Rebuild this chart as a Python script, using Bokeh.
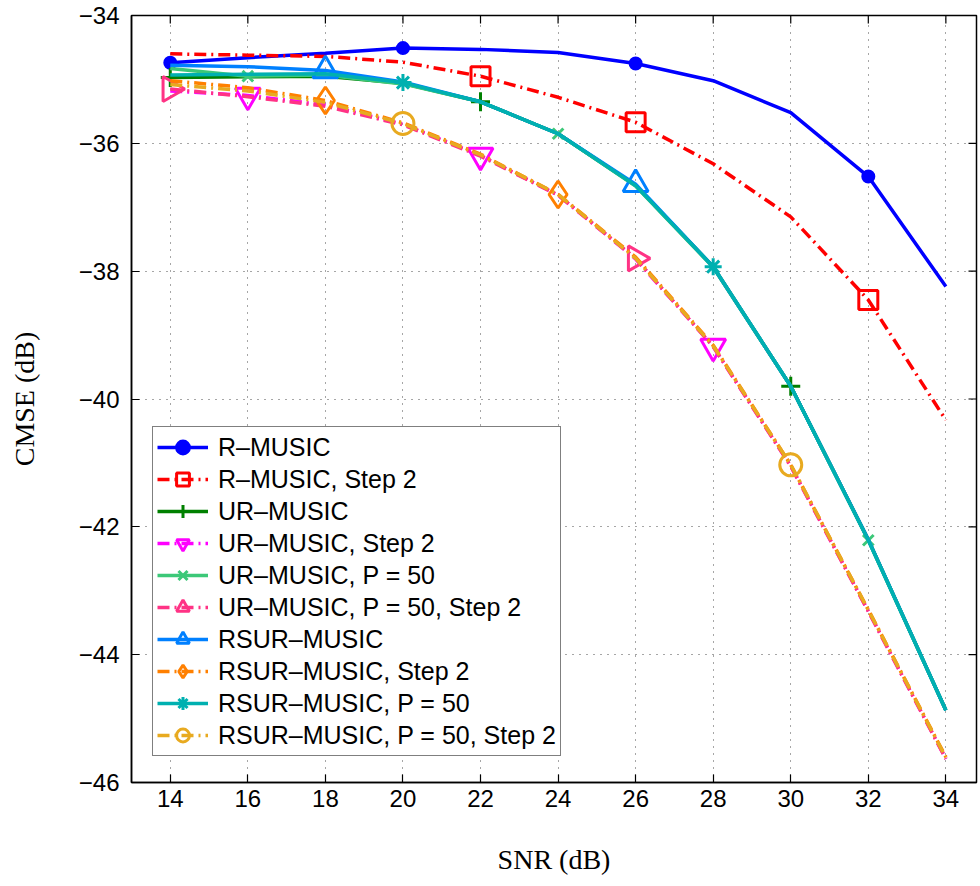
import math
from bokeh.plotting import figure
from bokeh.models import (Range1d, FixedTicker, Legend, LegendItem, ColumnDataSource)
from bokeh.embed import file_html
from bokeh.resources import INLINE

snr = [14, 16, 18, 20, 22, 24, 26, 28, 30, 32, 34]

r_music = [-34.74, -34.66, -34.59, -34.51, -34.53, -34.58, -34.75, -35.02, -35.52, -36.52, -38.24]
r_music_s2 = [-34.60, -34.62, -34.64, -34.73, -34.95, -35.28, -35.67, -36.32, -37.15, -38.45, -40.33]
ur_music = [-34.97, -34.96, -34.95, -35.06, -35.35, -35.85, -36.66, -37.93, -39.80, -42.20, -44.87]
ur_music_s2 = [-35.18, -35.25, -35.40, -35.70, -36.19, -36.81, -37.81, -39.18, -41.05, -43.32, -45.63]
ur_music_p50 = [-34.83, -34.95, -34.93, -35.07, -35.35, -35.85, -36.67, -37.94, -39.80, -42.21, -44.87]
ur_music_p50_s2 = [-35.15, -35.27, -35.42, -35.71, -36.20, -36.81, -37.80, -39.18, -41.05, -43.32, -45.63]
rsur_music = [-34.78, -34.80, -34.86, -35.04, -35.35, -35.85, -36.64, -37.93, -39.80, -42.20, -44.87]
rsur_music_s2 = [-35.02, -35.13, -35.33, -35.68, -36.17, -36.80, -37.78, -39.16, -41.03, -43.30, -45.60]
rsur_music_p50 = [-34.93, -34.92, -34.91, -35.05, -35.35, -35.85, -36.66, -37.93, -39.80, -42.21, -44.87]
rsur_music_p50_s2 = [-35.08, -35.18, -35.36, -35.69, -36.18, -36.80, -37.80, -39.17, -41.03, -43.30, -45.61]

labels = ["R\u2013MUSIC", "R\u2013MUSIC, Step 2", "UR\u2013MUSIC", "UR\u2013MUSIC, Step 2",
          "UR\u2013MUSIC, P = 50", "UR\u2013MUSIC, P = 50, Step 2", "RSUR\u2013MUSIC",
          "RSUR\u2013MUSIC, Step 2", "RSUR\u2013MUSIC, P = 50", "RSUR\u2013MUSIC, P = 50, Step 2"]
series = [r_music, r_music_s2, ur_music, ur_music_s2, ur_music_p50, ur_music_p50_s2,
          rsur_music, rsur_music_s2, rsur_music_p50, rsur_music_p50_s2]
marker_idx = [[0, 3, 6, 9], [4, 6, 9], [0, 4, 8], [1, 4, 7], [1, 5, 9], [0, 6],
              [2, 6], [2, 5], [3, 7], [3, 8]]

x_ticks = [14, 16, 18, 20, 22, 24, 26, 28, 30, 32, 34]
y_ticks = [-46, -44, -42, -40, -38, -36, -34]
y_tick_labels = ["\u221246", "\u221244", "\u221242", "\u221240", "\u221238", "\u221236", "\u221234"]

colors = ["#0000ff", "#ff0000", "#008000", "#ff00ff", "#3cc878", "#ff3385",
          "#0080ff", "#ff8000", "#00b0b0", "#e8aa20"]
dashes = ["solid", "12 5 2 5", "solid", "12 5 2 5", "solid", "12 5 2 5",
          "solid", "12 5 2 5", "solid", "12 5 2 5"]
markers = ["circle", "square", "cross", "inverted_triangle", "x", "triangle",
           "triangle", "diamond", "asterisk", "circle"]
msizes = [11, 19, 19, 25, 15, 25, 25, 27, 17, 22]
angles = [0, 0, 0, 0, 0, -1.5708, 0, 0, 0, 0]
filled = [True] + [False] * 9

x_lo, x_hi = 13, 34.79
y_lo, y_hi = -46, -34

p = figure(width=978, height=880, output_backend="svg", toolbar_location=None,
           x_range=Range1d(x_lo, x_hi), y_range=Range1d(y_lo, y_hi),
           min_border_left=131, min_border_top=15, min_border_right=2, min_border_bottom=98)
p.background_fill_color = "white"
p.border_fill_color = "white"
p.outline_line_color = "black"
p.outline_line_width = 1.5

font = "Liberation Sans"
for ax in (p.xaxis[0], p.yaxis[0]):
    ax.major_tick_in = 8
    ax.major_tick_out = 0
    ax.minor_tick_line_color = None
    ax.axis_line_width = 1.5
    ax.major_tick_line_width = 1.2
    ax.major_label_text_font = font
    ax.major_label_text_font_size = "24px"
    ax.major_label_text_color = "black"
    ax.axis_label_text_font = "Liberation Serif"
    ax.axis_label_text_font_size = "28px"
    ax.axis_label_text_font_style = "normal"
    ax.axis_label_text_color = "black"

p.xaxis.ticker = FixedTicker(ticks=x_ticks)
p.yaxis.ticker = FixedTicker(ticks=y_ticks)
p.yaxis.major_label_overrides = {t: s for t, s in zip(y_ticks, y_tick_labels)}
p.xaxis.axis_label = "SNR (dB)"
p.yaxis.axis_label = "CMSE (dB)"
p.xaxis.major_label_standoff = 7
p.yaxis.major_label_standoff = 12
p.xaxis.axis_label_standoff = 34
p.yaxis.axis_label_standoff = 36

for g in (p.xgrid[0], p.ygrid[0]):
    g.grid_line_color = "#222222"
    g.grid_line_dash = "1 6"
    g.grid_line_width = 1
    g.grid_line_alpha = 0.8
p.xgrid.ticker = FixedTicker(ticks=x_ticks)
p.ygrid.ticker = FixedTicker(ticks=y_ticks)

# inward tick marks on the top and right edges of the box
p.ray(x=x_ticks, y=[y_hi] * len(x_ticks), length=8, length_units="screen",
      angle=-math.pi / 2, line_color="black", line_width=1.2)
p.ray(x=[x_hi] * len(y_ticks), y=y_ticks, length=8, length_units="screen",
      angle=math.pi, line_color="black", line_width=1.2)

items = []
for lab, ys, idx, c, d, m, ms, ang, f in zip(labels, series, marker_idx, colors, dashes,
                                             markers, msizes, angles, filled):
    lr = p.line(snr, ys, line_color=c, line_width=3.5, line_dash=d)
    src = ColumnDataSource(dict(x=[snr[i] for i in idx], y=[ys[i] for i in idx]))
    sr = p.scatter("x", "y", source=src, marker=m, size=ms, angle=ang,
                   line_color=c, line_width=3,
                   fill_color=c if f else None)
    items.append(LegendItem(label=lab, renderers=[lr, sr]))

legend = Legend(items=items, location=(21, 26), orientation="vertical")
legend.label_text_font = font
legend.label_text_font_size = "25px"
legend.label_text_color = "black"
legend.glyph_width = 51
legend.glyph_height = 32
legend.label_height = 32
legend.spacing = 0
legend.padding = 4
legend.margin = 0
legend.label_standoff = 10
legend.border_line_color = "black"
legend.border_line_width = 1.5
legend.background_fill_color = "white"
legend.background_fill_alpha = 1
p.add_layout(legend, "center")

open("out.html", "w").write(file_html(p, INLINE))
